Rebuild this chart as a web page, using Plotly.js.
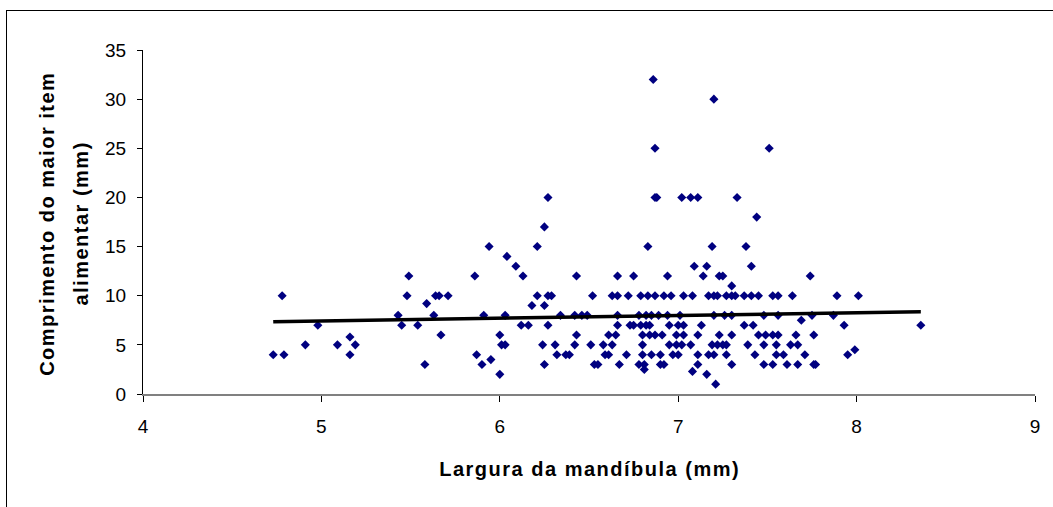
<!DOCTYPE html>
<html>
<head>
<meta charset="utf-8">
<script src="https://cdn.plot.ly/plotly-3.0.1.min.js"></script>
<style>
  html, body { margin: 0; padding: 0; background: #fff; }
  #wrap { position: relative; width: 1053px; height: 507px; overflow: hidden; }
  #chart { position: absolute; left: 0; top: 0; width: 1053px; height: 507px; }
  #frame { position: absolute; left: 6px; top: 10px; width: 1060px; height: 520px;
           border-top: 1px solid #000; border-left: 1px solid #000; pointer-events: none; }
  #chart .annotation-text { letter-spacing: 1.5px; }
</style>
</head>
<body>
<div id="wrap">
  <div id="chart"></div>
  <div id="frame"></div>
</div>
<script>
// Largura da mandíbula (mm) — x values
const mandibleWidth = [
  4.78, 4.73, 4.79, 4.91, 4.98, 5.09, 5.16, 5.19, 5.16,
  5.43, 5.45, 5.49, 5.48, 5.54, 5.58, 5.59, 5.63, 5.64, 5.66, 5.67, 5.71,
  5.86, 5.87, 5.90, 5.91, 5.94, 5.95, 6.00, 6.00, 6.01, 6.03, 6.03, 6.04,
  6.09, 6.12, 6.13, 6.16, 6.18, 6.21, 6.21, 6.24, 6.25, 6.27, 6.25, 6.27,
  6.29, 6.27, 6.25, 6.31, 6.32, 6.34, 6.37, 6.39, 6.42, 6.42, 6.43, 6.43,
  6.46, 6.49, 6.51, 6.52, 6.53, 6.55,
  6.86, 7.20, 6.87, 7.51, 6.87, 6.88, 7.02, 7.07, 7.11, 7.33, 7.44, 6.83,
  7.19, 7.38, 7.09, 7.16, 7.41, 6.66, 6.75, 6.94, 7.14, 7.23, 7.25, 7.30, 7.74,
  6.63, 6.66, 6.72, 6.79, 6.83, 6.87, 6.92, 6.96, 7.03, 7.08, 7.17, 7.20,
  7.22, 7.27, 7.30, 7.32, 7.37, 7.41, 7.45, 7.53, 7.56, 7.64, 7.89, 8.01,
  6.66, 6.78, 6.82, 6.85, 6.89, 6.94, 7.01, 7.20, 7.26, 7.30, 7.48, 7.56, 7.75, 7.87, 7.69,
  6.66, 6.73, 6.75, 6.79, 6.82, 6.84, 6.95, 7.00, 7.03, 7.13, 7.37, 7.42, 7.93, 8.36,
  6.61, 6.65, 6.80, 6.84, 6.87, 6.91, 6.99, 7.03, 7.11, 7.23, 7.30, 7.45, 7.49, 7.53, 7.56, 7.66, 7.76,
  6.58, 6.63, 6.80, 6.95, 6.99, 7.02, 7.07, 7.19, 7.22, 7.25, 7.27, 7.39, 7.48, 7.55, 7.63, 7.67,
  6.59, 6.61, 6.71, 6.80, 6.85, 6.90, 6.97, 7.00, 7.11, 7.17, 7.20, 7.27, 7.43, 7.55, 7.59, 7.71, 7.95, 7.99,
  6.67, 6.78, 6.81, 6.90, 6.92, 7.11, 7.30, 7.48, 7.53, 7.61, 7.67, 7.76, 7.77,
  6.81, 7.08, 7.16, 7.21
];
// Comprimento do maior item alimentar (mm) — y values
const itemLength = [
  10, 4, 4, 5, 7, 5, 5.8, 5, 4,
  8, 7, 12, 10, 7, 3, 9.2, 8, 10, 10, 6, 10,
  12, 4, 3, 8, 15, 3.5, 6, 2, 5, 5, 8, 14,
  13, 7, 12, 7, 9, 15, 10, 5, 17, 20, 9, 10,
  10, 7, 3, 5, 4, 8, 4, 4, 5, 8, 12, 6,
  8, 8, 5, 10, 3, 3,
  32, 30, 25, 25, 20, 20, 20, 20, 20, 20, 18, 15,
  15, 15, 13, 13, 13, 12, 12, 12, 12, 12, 12, 11, 12,
  10, 10, 10, 10, 10, 10, 10, 10, 10, 10, 10, 10,
  10, 10, 10, 10, 10, 10, 10, 10, 10, 10, 10, 10,
  8, 8, 8, 8, 8, 8, 8, 8, 8, 8, 8, 8, 8, 8, 7.5,
  7, 7, 7, 7, 7, 7, 7, 7, 7, 7, 7, 7, 7, 7,
  6, 6, 6, 6, 6, 6, 6, 6, 6, 6, 6, 6, 6, 6, 6, 6, 6,
  5, 5, 5, 5, 5, 5, 5, 5, 5, 5, 5, 5, 5, 5, 5, 5,
  4, 4, 4, 4, 4, 4, 4, 4, 4, 4, 4, 4, 4, 4, 4, 4, 4, 4.5,
  3, 3, 3, 3, 3, 3, 3, 3, 3, 3, 3, 3, 3,
  2.5, 2.3, 2, 1
];
// linear trend line as drawn in the source chart (end points)
const trendX = [4.73, 8.36];
const trendY = [7.35, 8.37];

const xTicks = [4, 5, 6, 7, 8, 9];
const yTicks = [0, 5, 10, 15, 20, 25, 30, 35];
const xTitle = 'Largura da mandíbula (mm)';
const yTitleLines = ['Comprimento do maior item', 'alimentar (mm)'];

const FONT = '"Liberation Sans", Arial, sans-serif';

const traces = [
  {
    x: mandibleWidth, y: itemLength, type: 'scatter', mode: 'markers',
    marker: { symbol: 'diamond', size: 7, color: '#000080', line: { width: 0 } },
    hoverinfo: 'x+y', showlegend: false
  },
  {
    x: trendX, y: trendY, type: 'scatter', mode: 'lines',
    line: { color: '#000000', width: 3.5 }, hoverinfo: 'skip', showlegend: false
  }
];

const layout = {
  width: 1053, height: 507,
  margin: { l: 143, r: 18, t: 50, b: 113, pad: 0 },
  paper_bgcolor: '#ffffff', plot_bgcolor: '#ffffff',
  font: { family: FONT, size: 19, color: '#000' },
  showlegend: false,
  xaxis: {
    range: [4, 9], tickvals: xTicks, ticktext: xTicks.map(String),
    showgrid: false, zeroline: false,
    showline: true, linecolor: '#808080', linewidth: 2,
    ticks: 'outside', ticklen: 6, tickwidth: 1, tickcolor: '#000',
    ticklabelstandoff: 8,
    tickfont: { family: FONT, size: 19, color: '#000' }
  },
  yaxis: {
    range: [0, 35], tickvals: yTicks, ticktext: yTicks.map(String),
    showgrid: false, zeroline: false,
    showline: true, linecolor: '#000', linewidth: 1,
    ticks: 'outside', ticklen: 5, tickwidth: 1, tickcolor: '#000',
    ticklabelstandoff: 7,
    tickfont: { family: FONT, size: 19, color: '#000' }
  },
  annotations: [
    {
      text: '<b>' + xTitle + '</b>', xref: 'paper', yref: 'paper',
      x: 0.5, y: -0.218, xanchor: 'center', yanchor: 'middle', showarrow: false,
      font: { family: FONT, size: 20, color: '#000' }
    },
    {
      text: '<b>' + yTitleLines[0] + '</b>', xref: 'paper', yref: 'paper',
      x: -0.1076, y: 0.494, xanchor: 'center', yanchor: 'middle', textangle: -90,
      showarrow: false, font: { family: FONT, size: 20, color: '#000' }
    },
    {
      text: '<b>' + yTitleLines[1] + '</b>', xref: 'paper', yref: 'paper',
      x: -0.0695, y: 0.494, xanchor: 'center', yanchor: 'middle', textangle: -90,
      showarrow: false, font: { family: FONT, size: 20, color: '#000' }
    }
  ]
};

Plotly.newPlot('chart', traces, layout, { displayModeBar: false, staticPlot: true });
</script>
</body>
</html>
